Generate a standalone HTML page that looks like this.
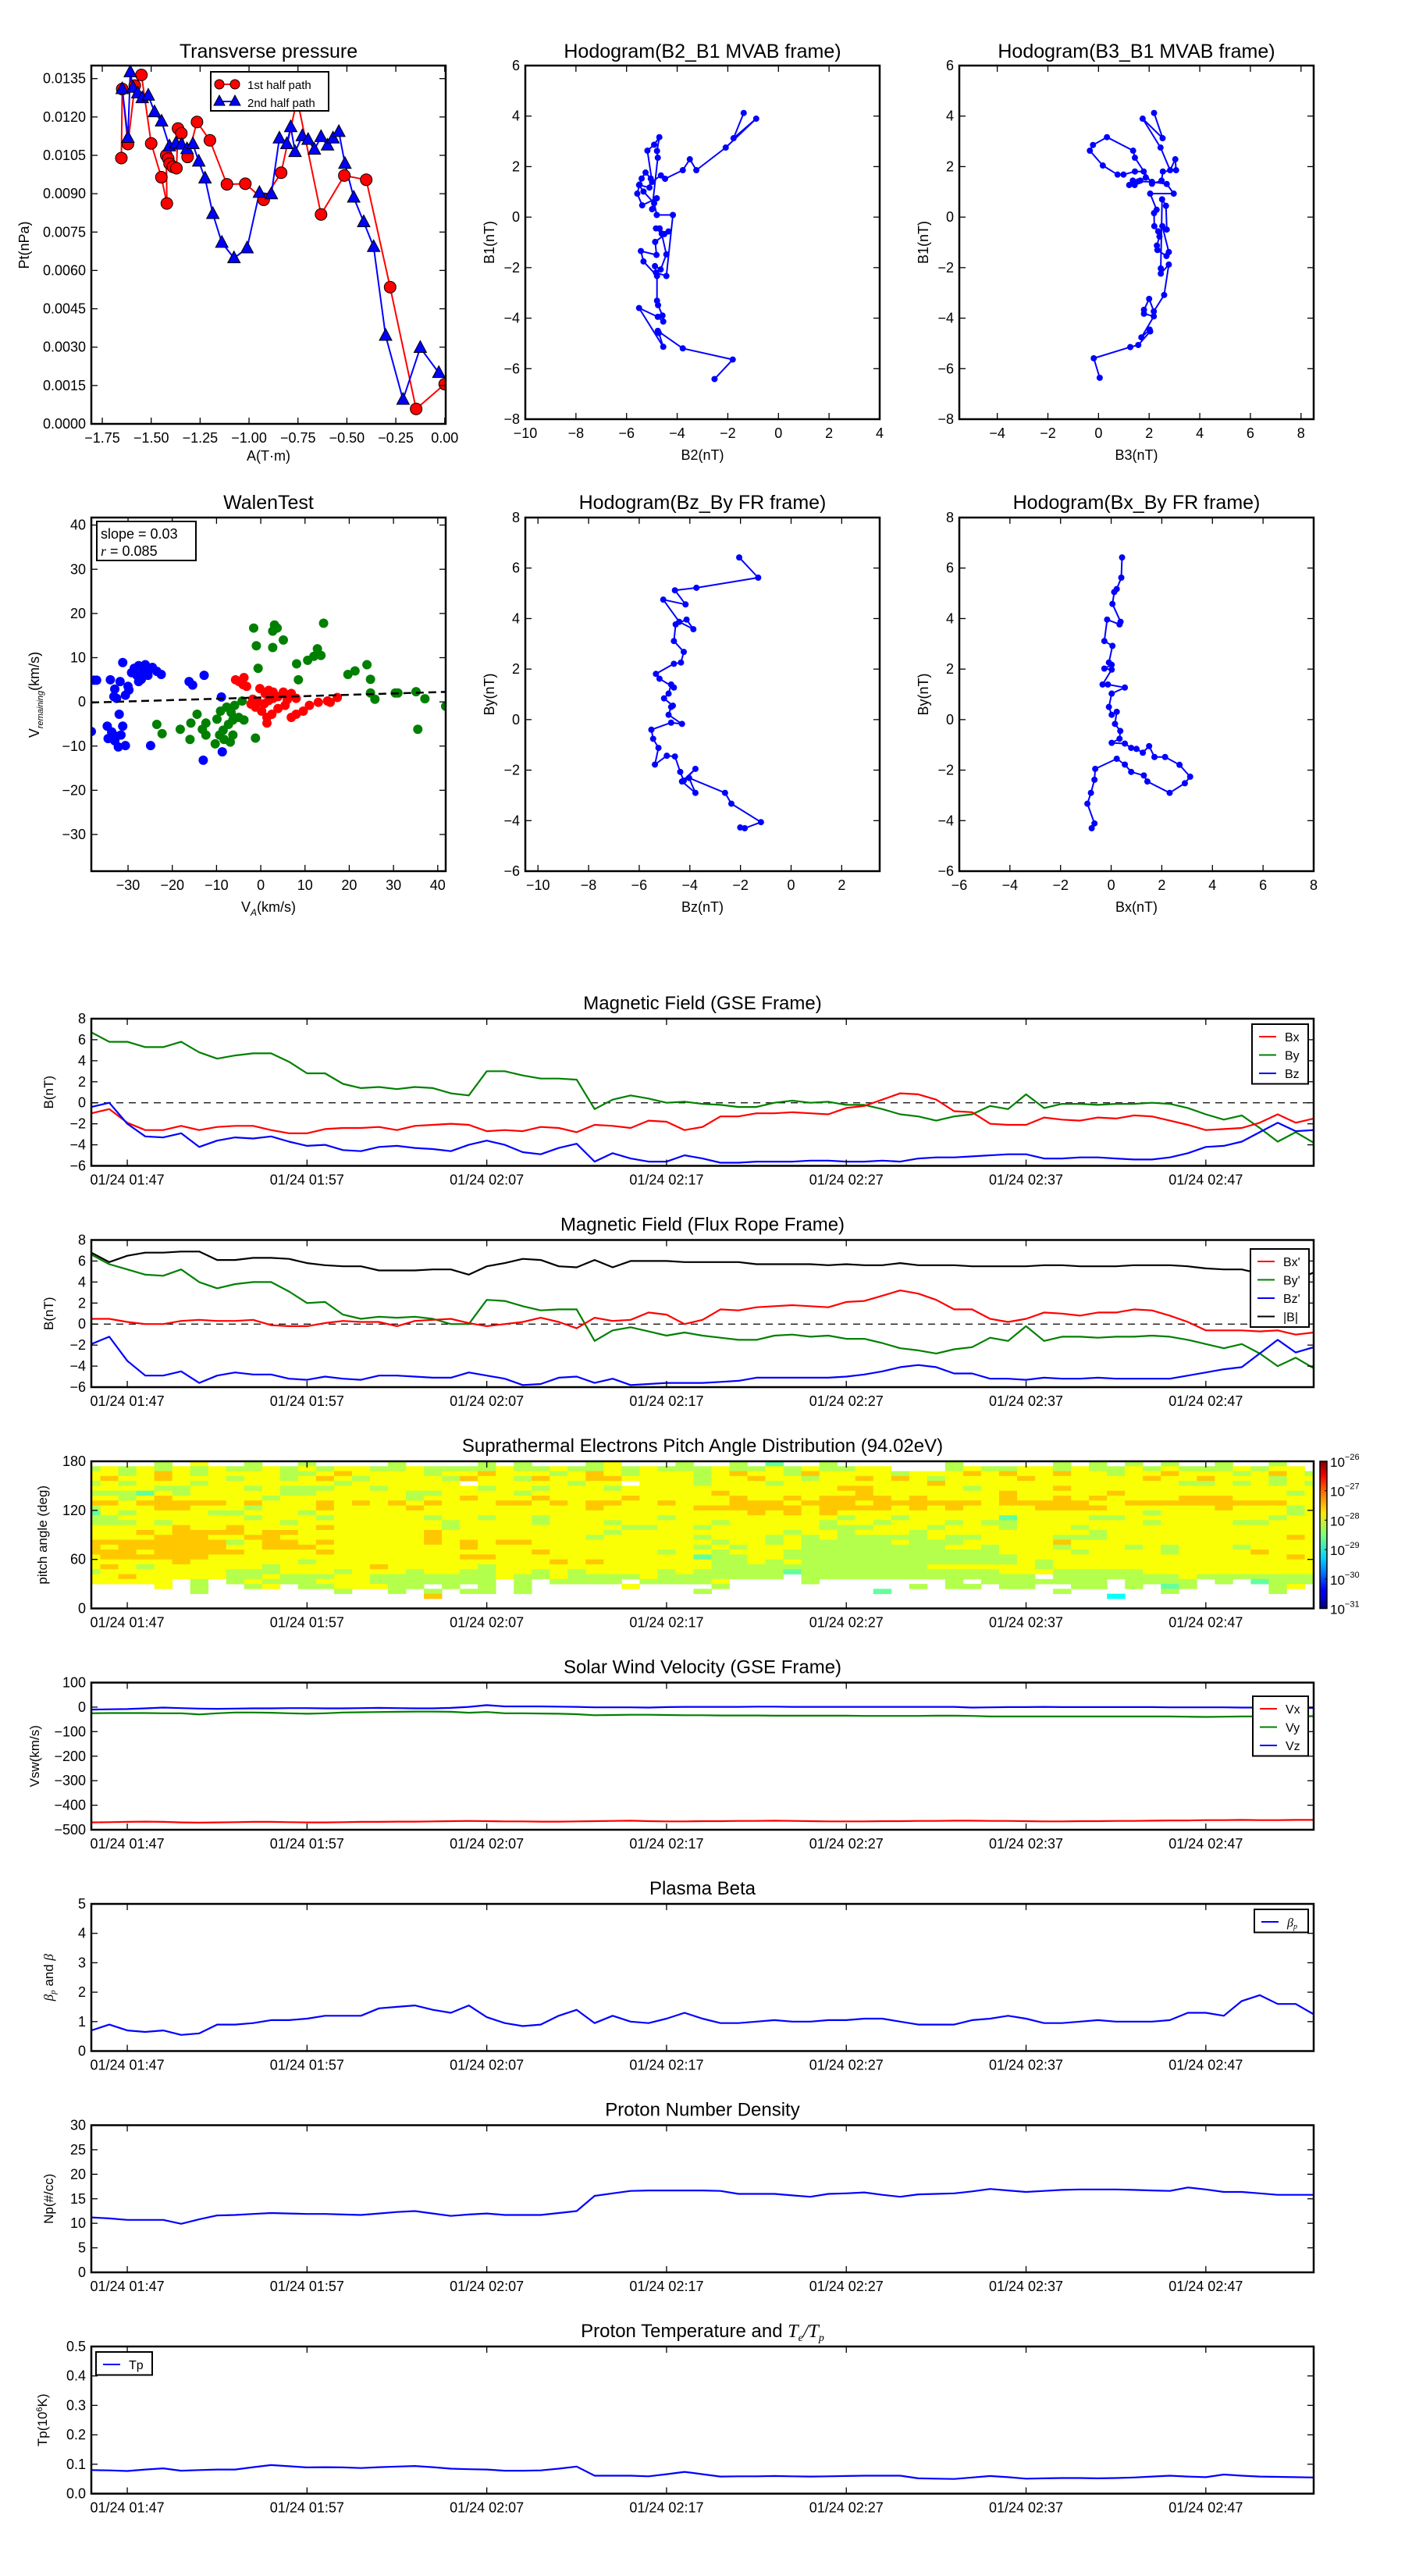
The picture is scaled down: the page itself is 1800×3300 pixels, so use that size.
<!DOCTYPE html>
<html><head><meta charset="utf-8"><title>Flux rope analysis</title>
<style>
html,body{margin:0;padding:0;background:#fff;}
svg{display:block;font-family:"Liberation Sans",sans-serif;}
</style></head>
<body>
<svg id="fig" width="1800" height="3300" viewBox="0 0 1800 3300" xmlns="http://www.w3.org/2000/svg">
<defs>
<linearGradient id="jetgrad" x1="0" y1="1" x2="0" y2="0">
<stop offset="0" stop-color="#00007f"/><stop offset="0.11" stop-color="#0000ff"/><stop offset="0.125" stop-color="#0000ff"/>
<stop offset="0.34" stop-color="#00d4ff"/><stop offset="0.5" stop-color="#7dff7a"/><stop offset="0.65" stop-color="#ffe600"/>
<stop offset="0.8" stop-color="#ff6800"/><stop offset="0.9" stop-color="#ff0000"/><stop offset="1" stop-color="#7f0000"/>
</linearGradient>
</defs>
</svg>
<script>
// ---------------- DATA ----------------
const tpRedA = [-1.6525,-1.648,-1.619,-1.584,-1.550,-1.500,-1.448,-1.420,-1.423,-1.413,-1.406,-1.389,-1.371,-1.363,-1.346,-1.314,-1.266,-1.200,-1.113,-1.019,-0.925,-0.836,-0.754,-0.632,-0.513,-0.401,-0.279,-0.146,0.000];
const tpRedP = [0.010393,0.013093,0.010944,0.013226,0.013644,0.010966,0.009644,0.008619,0.010504,0.010371,0.010173,0.010052,0.009996,0.011550,0.011363,0.010437,0.011804,0.011087,0.009368,0.009390,0.008762,0.009820,0.012708,0.008189,0.009710,0.009545,0.005345,0.000584,0.001554];
const tpBlueA = [-1.648,-1.619,-1.607,-1.593,-1.569,-1.546,-1.515,-1.483,-1.447,-1.407,-1.374,-1.345,-1.317,-1.287,-1.257,-1.225,-1.185,-1.139,-1.077,-1.010,-0.947,-0.886,-0.845,-0.807,-0.787,-0.765,-0.728,-0.698,-0.666,-0.632,-0.599,-0.571,-0.541,-0.510,-0.465,-0.414,-0.363,-0.302,-0.213,-0.125,-0.030];
const tpBlueP = [0.013093,0.011187,0.013755,0.013148,0.012928,0.012741,0.012840,0.012190,0.011826,0.010856,0.010966,0.010922,0.010746,0.010944,0.010261,0.009600,0.008211,0.007087,0.006481,0.006866,0.009037,0.008982,0.011165,0.010944,0.011605,0.010635,0.011253,0.011109,0.010724,0.011220,0.010889,0.011165,0.011418,0.010173,0.008850,0.007891,0.006921,0.003450,0.000948,0.002976,0.001995];
const tpXTicks = [-1.75,-1.50,-1.25,-1.00,-0.75,-0.50,-0.25,0.00];
const tpYTicks = [0,0.0015,0.003,0.0045,0.006,0.0075,0.009,0.0105,0.012,0.0135];

const hB2 = [-1.372,-1.774,-0.879,-2.082,-3.244,-3.501,-3.779,-4.478,-4.643,-4.992,-5.177,-4.910,-4.705,-4.797,-4.766,-4.992,-4.807,-5.383,-5.578,-5.486,-5.404,-5.249,-5.044,-5.095,-5.506,-5.331,-4.910,-4.807,-4.170,-4.427,-4.838,-4.879,-4.653,-4.427,-4.612,-4.838,-4.694,-4.509,-4.344,-4.869,-4.817,-5.434,-5.331,-4.797,-4.797,-4.756,-4.581,-4.550,-4.766,-5.506,-4.550,-4.725,-4.766,-3.779,-1.805,-2.525];
const hB1 = [4.124,3.125,3.897,2.754,1.858,2.290,1.858,1.518,1.652,1.394,2.630,2.867,3.166,2.620,2.352,0.313,0.746,0.467,0.931,1.292,1.528,1.765,1.528,1.168,1.271,1.013,0.550,0.086,0.086,-2.331,-2.197,-1.940,-2.073,-1.476,-0.652,-0.446,-0.446,-0.672,-0.569,-0.981,-1.497,-1.343,-1.754,-2.331,-3.310,-3.485,-3.897,-4.134,-3.948,-3.598,-5.135,-4.587,-4.504,-5.196,-5.639,-6.411];

const hB3 = [2.194,2.532,1.744,2.450,2.829,3.033,3.064,2.542,2.491,2.112,1.437,1.366,0.333,-0.219,-0.342,0.169,0.752,0.987,1.437,1.785,1.867,1.652,1.355,1.212,1.427,1.570,2.112,2.695,2.971,2.041,2.296,2.194,2.204,2.358,2.409,2.306,2.327,2.685,2.777,2.521,2.695,2.665,2.511,2.460,2.460,2.777,2.593,2.184,2.000,1.795,1.795,2.184,1.693,2.020,2.041,1.571,1.254,-0.188,0.047];
const hB1b = [4.124,3.125,3.897,2.754,1.858,2.290,1.858,1.806,1.446,1.322,2.352,2.630,3.166,2.857,2.630,2.043,1.683,1.683,1.806,1.806,1.569,1.446,1.446,1.271,1.271,1.415,1.394,1.312,0.931,0.931,0.293,0.159,-0.357,-0.563,-0.769,-1.127,-1.302,-1.539,-1.384,-0.357,-0.492,0.447,0.704,-2.032,-2.238,-1.878,-3.083,-3.732,-3.238,-3.670,-3.825,-3.928,-4.762,-4.453,-4.525,-5.063,-5.145,-5.588,-6.361];

const walBlueX = [-38.3,-37.7,-37.1,-34.0,-33.0,-33.2,-31.8,-31.2,-30.0,-29.8,-29.2,-28.6,-28.0,-27.6,-27.0,-26.6,-26.1,-25.3,-24.5,-23.5,-22.5,-25.5,-27.6,-30.6,-32.6,-34.7,-33.7,-32.6,-31.6,-32.0,-34.5,-32.2,-30.6,-31.2,-33.0,-24.9,-16.2,-15.4,-12.8,-8.9,-13.0,-8.7];
const walBlueY = [-6.7,4.9,4.9,5.0,2.9,1.2,4.6,8.9,3.5,2.7,6.6,7.6,6.0,8.2,5.1,7.0,8.4,7.3,7.8,6.9,6.2,6.0,4.6,1.5,0.8,-5.5,-6.8,-7.8,-7.5,-2.8,-8.3,-10.2,-9.9,-5.5,-8.8,-9.9,4.6,3.8,6.0,1.1,-13.2,-11.3];
const walGreenX = [-1.6,3.1,2.7,3.7,5.1,-1.0,2.7,14.2,12.8,13.6,12.0,10.6,8.1,-0.6,8.5,24.0,21.3,19.7,24.8,24.8,25.8,30.4,31.0,35.1,37.1,41.8,35.5,-4.2,-9.1,-7.7,-6.7,-5.9,-5.0,-9.9,-12.4,-13.2,-15.8,-18.2,-16.0,-12.4,-10.3,-8.3,-6.9,-6.3,-9.3,-8.5,-23.5,-22.3,-1.2,-3.8,-6.3,-7.3,-14.4];
const walGreenY = [16.7,17.4,16.0,16.7,14.0,12.7,12.3,17.8,12.0,10.5,10.3,9.4,8.6,7.6,5.0,8.4,7.0,6.2,5.1,2.0,0.6,2.0,2.0,2.3,0.7,-1.0,-6.2,0.2,-2.1,-1.2,-2.4,-0.8,-3.5,-3.9,-4.8,-6.2,-4.8,-6.2,-8.5,-7.5,-9.5,-8.5,-9.1,-7.5,-7.5,-6.4,-5.1,-7.2,-8.2,-4.1,-4.1,-5.1,-2.8];
const walRedX = [-5.7,-4.9,-3.8,-4.0,-3.2,-0.2,1.8,1.0,2.8,5.1,6.9,-1.8,-0.6,0.8,1.8,2.8,0.2,1.4,2.5,3.9,5.5,6.9,8.0,9.6,11.0,13.0,15.1,17.3,15.7,-1.2,-2.2,3.9,6.0,8.0,1.4];
const walRedY = [5.0,4.6,5.5,3.9,3.5,3.0,2.6,1.9,2.2,2.2,1.9,0.6,-0.1,-0.4,0.3,0.8,-2.1,-3.5,-2.8,-1.5,-0.8,-3.5,-2.8,-2.1,-0.8,-0.1,0.2,1.0,-0.1,-1.2,-0.5,1.2,0.5,0.8,-4.8];
const walSlope = 0.03, walIntercept = 1.0;
const walTicks = [-30,-20,-10,0,10,20,30,40];

const frBz = [-2.05,-1.30,-3.74,-4.59,-4.17,-5.05,-4.42,-3.86,-4.13,-4.56,-4.63,-4.24,-4.35,-4.63,-5.34,-5.20,-4.63,-4.74,-4.84,-5.02,-4.67,-4.74,-4.84,-4.31,-4.74,-5.52,-5.45,-5.24,-5.38,-4.91,-4.59,-4.38,-4.24,-3.78,-4.31,-3.78,-4.03,-2.61,-2.36,-1.19,-1.83,-2.01];
const frBy = [6.42,5.62,5.22,5.12,4.56,4.75,3.87,3.58,3.96,3.77,3.11,2.68,2.26,2.21,1.81,1.62,1.27,1.39,1.03,0.84,0.55,0.50,0.19,-0.17,-0.12,-0.40,-0.76,-1.12,-1.78,-1.43,-1.46,-2.07,-2.42,-1.95,-2.45,-2.90,-2.31,-2.90,-3.33,-4.06,-4.30,-4.27];

const frBx = [0.43,0.40,0.22,0.12,0.05,0.37,0.33,-0.16,-0.27,0.05,-0.09,0.02,-0.27,0.02,-0.34,-0.13,0.54,0.02,-0.09,0.02,0.22,0.15,0.36,0.33,0.02,0.54,0.79,1.00,1.25,1.50,1.71,2.13,2.70,3.12,2.91,2.31,1.43,1.29,0.79,0.54,0.22,-0.63,-0.66,-0.80,-0.94,-0.66,-0.77];
const frByb = [6.42,5.62,5.17,5.05,4.58,3.87,3.77,3.96,3.11,2.92,2.26,2.17,2.02,1.98,1.39,1.39,1.27,1.03,0.50,0.19,0.31,-0.17,-0.45,-0.76,-0.92,-0.95,-1.12,-1.16,-1.31,-1.05,-1.48,-1.48,-1.79,-2.26,-2.52,-2.90,-2.45,-2.21,-2.07,-1.78,-1.55,-1.95,-2.38,-2.90,-3.33,-4.11,-4.30];

const tsTickLabels = ["01/24 01:47","01/24 01:57","01/24 02:07","01/24 02:17","01/24 02:27","01/24 02:37","01/24 02:47"];
const tsTickIdx = [2,12,22,32,42,52,62];
const gseBx = [-1.0,-0.6,-1.9,-2.6,-2.6,-2.2,-2.6,-2.3,-2.2,-2.2,-2.6,-2.9,-2.9,-2.5,-2.4,-2.4,-2.3,-2.6,-2.2,-2.1,-2.0,-2.1,-2.7,-2.6,-2.7,-2.3,-2.4,-2.8,-2.1,-2.2,-2.4,-1.7,-1.8,-2.6,-2.3,-1.3,-1.3,-1.0,-1.0,-0.9,-1.0,-1.1,-0.5,-0.3,0.3,0.9,0.8,0.3,-0.8,-0.9,-2.0,-2.1,-2.1,-1.4,-1.6,-1.7,-1.4,-1.5,-1.2,-1.3,-1.7,-2.1,-2.6,-2.5,-2.4,-1.9,-1.1,-1.9,-1.5];
const gseBy = [6.7,5.8,5.8,5.3,5.3,5.8,4.8,4.2,4.5,4.7,4.7,3.9,2.8,2.8,1.8,1.4,1.5,1.3,1.5,1.4,0.9,0.7,3.0,3.0,2.6,2.3,2.3,2.2,-0.6,0.3,0.7,0.4,0.0,0.1,-0.1,-0.2,-0.4,-0.4,0.0,0.2,0.0,0.1,-0.2,-0.2,-0.6,-1.1,-1.3,-1.7,-1.3,-1.1,-0.3,-0.6,0.8,-0.5,-0.1,-0.1,-0.2,-0.1,-0.1,0.0,-0.1,-0.5,-1.1,-1.6,-1.2,-2.4,-3.7,-2.8,-3.8];
const gseBz = [-0.4,0.0,-2.0,-3.2,-3.3,-2.9,-4.2,-3.6,-3.3,-3.4,-3.2,-3.7,-4.1,-4.0,-4.5,-4.6,-4.2,-4.1,-4.3,-4.4,-4.6,-4.0,-3.6,-4.0,-4.7,-4.9,-4.3,-3.9,-5.6,-4.8,-5.3,-5.6,-5.6,-5.0,-5.3,-5.7,-5.7,-5.6,-5.6,-5.6,-5.5,-5.5,-5.6,-5.6,-5.5,-5.6,-5.3,-5.2,-5.2,-5.1,-5.0,-4.9,-4.9,-5.3,-5.3,-5.2,-5.2,-5.3,-5.4,-5.4,-5.2,-4.8,-4.2,-4.1,-3.7,-2.8,-1.9,-2.7,-2.6];
const frBxT = [0.5,0.5,0.2,0.0,0.0,0.3,0.4,0.3,0.3,0.4,-0.1,-0.2,-0.2,0.1,0.3,0.2,0.2,-0.2,0.3,0.4,0.5,0.1,-0.2,0.0,0.2,0.6,0.2,-0.4,0.6,0.3,0.4,1.1,0.9,0.0,0.4,1.4,1.3,1.6,1.7,1.8,1.7,1.6,2.1,2.2,2.7,3.2,2.9,2.3,1.4,1.4,0.5,0.2,0.5,1.1,1.0,0.8,1.1,1.1,1.4,1.3,0.8,0.2,-0.6,-0.6,-0.6,-0.7,-0.6,-1.0,-0.8];
const frByT = [6.6,5.7,5.2,4.7,4.6,5.2,4.0,3.4,3.8,4.0,4.0,3.1,2.0,2.1,0.9,0.5,0.7,0.6,0.7,0.5,0.0,0.0,2.3,2.2,1.7,1.3,1.4,1.4,-1.6,-0.6,-0.3,-0.7,-1.1,-0.8,-1.1,-1.3,-1.5,-1.5,-1.1,-1.0,-1.2,-1.1,-1.4,-1.4,-1.8,-2.3,-2.5,-2.8,-2.4,-2.2,-1.3,-1.6,-0.2,-1.6,-1.2,-1.2,-1.3,-1.2,-1.2,-1.1,-1.2,-1.5,-1.9,-2.3,-1.9,-2.8,-4.0,-3.2,-4.2];
const frBzT = [-1.9,-1.2,-3.5,-4.9,-4.9,-4.5,-5.6,-4.9,-4.6,-4.8,-4.8,-5.2,-5.3,-5.0,-5.2,-5.3,-4.9,-4.9,-5.0,-5.1,-5.1,-4.6,-4.9,-5.2,-5.8,-5.7,-5.1,-5.0,-5.6,-5.2,-5.8,-5.7,-5.6,-5.6,-5.6,-5.5,-5.4,-5.1,-5.1,-5.1,-5.1,-5.1,-5.0,-4.8,-4.5,-4.1,-3.9,-4.1,-4.7,-4.7,-5.2,-5.2,-5.3,-5.1,-5.2,-5.2,-5.1,-5.2,-5.2,-5.2,-5.2,-4.9,-4.6,-4.3,-4.1,-2.8,-1.5,-2.7,-2.2];
const frBmag = [6.8,5.9,6.5,6.8,6.8,6.9,6.9,6.1,6.1,6.3,6.3,6.2,5.8,5.6,5.5,5.5,5.1,5.1,5.1,5.2,5.2,4.7,5.5,5.8,6.2,6.1,5.5,5.4,6.1,5.4,6.0,6.0,6.0,5.9,5.9,5.9,5.9,5.7,5.7,5.7,5.7,5.6,5.7,5.6,5.6,5.8,5.6,5.6,5.6,5.5,5.5,5.5,5.5,5.6,5.6,5.5,5.5,5.5,5.6,5.6,5.6,5.5,5.3,5.2,5.2,4.8,4.4,4.2,4.9];
const swVx = [-470,-469,-468,-467,-468,-470,-471,-470,-469,-468,-468,-469,-470,-470,-469,-468,-468,-467,-467,-466,-465,-464,-465,-466,-466,-467,-467,-466,-465,-464,-463,-465,-466,-466,-465,-465,-464,-464,-463,-464,-465,-466,-466,-466,-465,-465,-464,-464,-463,-463,-464,-464,-465,-466,-466,-465,-465,-464,-464,-463,-462,-462,-461,-461,-460,-461,-461,-460,-460];
const swVy = [-25,-24,-24,-24,-25,-25,-30,-25,-22,-22,-23,-25,-27,-25,-22,-21,-20,-19,-18,-18,-19,-23,-20,-25,-25,-26,-27,-29,-33,-32,-31,-31,-32,-33,-33,-34,-34,-34,-35,-35,-35,-35,-35,-36,-36,-36,-36,-35,-35,-36,-38,-38,-38,-38,-38,-38,-38,-38,-38,-38,-38,-39,-40,-39,-38,-38,-38,-38,-37];
const swVz = [-10,-9,-8,-5,-2,-4,-6,-7,-6,-5,-5,-4,-4,-5,-5,-4,-3,-4,-5,-5,-3,1,8,3,3,3,2,1,-1,-1,-1,-2,0,1,1,1,1,2,2,1,1,1,1,1,1,1,1,1,1,-2,-1,0,0,1,0,0,0,0,0,0,-1,-1,-1,-1,-2,-2,-3,-3,-3];
const betaP = [0.7,0.9,0.7,0.65,0.7,0.55,0.6,0.9,0.9,0.95,1.05,1.05,1.1,1.2,1.2,1.2,1.45,1.5,1.55,1.4,1.3,1.55,1.15,0.95,0.85,0.9,1.2,1.4,0.95,1.2,1.0,0.95,1.1,1.3,1.1,0.95,0.95,1.0,1.05,1.0,1.0,1.05,1.05,1.1,1.1,1.0,0.9,0.9,0.9,1.05,1.1,1.2,1.1,0.95,0.95,1.0,1.05,1.0,1.0,1.0,1.05,1.3,1.3,1.2,1.7,1.9,1.6,1.6,1.25];
const densNp = [11.2,11.0,10.7,10.7,10.7,9.9,10.8,11.6,11.7,11.9,12.1,12.0,11.9,11.9,11.8,11.7,12.0,12.3,12.5,12.0,11.5,11.8,12.0,11.7,11.7,11.7,12.1,12.5,15.6,16.1,16.6,16.7,16.7,16.7,16.7,16.6,16.0,16.0,16.0,15.7,15.4,16.0,16.1,16.3,15.8,15.4,15.9,16.0,16.1,16.5,17.0,16.7,16.4,16.6,16.8,16.9,16.9,16.9,16.8,16.7,16.6,17.3,16.9,16.4,16.4,16.1,15.8,15.8,15.8];
const tempTp = [0.080,0.079,0.077,0.082,0.086,0.078,0.080,0.082,0.082,0.090,0.097,0.093,0.089,0.090,0.089,0.087,0.090,0.092,0.094,0.090,0.085,0.083,0.082,0.078,0.078,0.079,0.085,0.092,0.061,0.061,0.061,0.059,0.066,0.074,0.066,0.058,0.059,0.059,0.060,0.059,0.058,0.059,0.060,0.061,0.061,0.061,0.052,0.051,0.050,0.055,0.060,0.056,0.051,0.052,0.053,0.053,0.052,0.053,0.055,0.058,0.061,0.058,0.056,0.065,0.061,0.058,0.057,0.056,0.055];
// Pitch angle distribution: level digits, '.' = no data
const padRows = [
"....5.6..5..5....5....5.5...56...5..5.4..5......5.....5.5.5.5..5..5..",
"565656565565656655655556556556565556556565566...56556656556565556566",
"665676566665567666656676665676566656766576666566676766766566766656765",
"676676665665676566665766576677666656676656676765666676666667667666566",
"565666566666665666666.66666566.66656665666666667666666666666655656565",
"666655666565556656666656656665666666666666776666656666766666666666666",
"555465666665566666556666566666666667666666676666666766666766666666656",
"665676666656666666566766676666766666766767777676666766767666677766666",
"776777776766676767676667767677667666777677767777776777776677777777766",
"566677666566676666766666666676666677777767777676766667777666666766656",
"465666655666566666666666666666666666676767666666666666666665666666656",
"556666666566656666656656656666665666666666566566666466665566666666566",
"555656666665666666665666656665666665666665665666565566666665666655666",
"666667667666676666665666666666556656666665556665666566656666666666666",
"666767777677666666676666666665666666666566566656666666665666666666666",
"666677766776666666676666666656666656665656555556556666555666666666676",
"777777775677676666676767766666666665665655555655566666766666666666666",
"767777776677766666666766666666666656566655555555665666566656566656666",
"777677777666676666666666676666665665666555555555555666656666566667666",
"677777766666666666666776666666666645566555555555555566666666666666676",
"666667666666566666666666667676666665565655555555555565666666666666666",
"676566666656666676666656666666666665555555555556666665666666666666666",
"566666665556665666566556656566665655555455555555555666555556666666666",
"667666665565556655555556556555565555555.5555555555555.5555555655555555",
"66666.5.565556665555555.5.5555.55556....5.......5.5555555.5555.5.4555",
"....6.5..56.5566655.5.5.5.....6....5..........5.55.55..55.5.45....56..",
"......5.......5..5.5.55.5.........5.........4.........5.....5.....5...",
"...................7.....................................3...........",
"......................................................................",
"......................................................................"
];
const padLevelFrac = [0.10,0.20,0.30,0.38,0.47,0.55,0.62,0.68,0.76,0.85];
const padTicks = [0,60,120,180];
const cbLabels = ["-31","-30","-29","-28","-27","-26"];

// ---------------- DRAWING ----------------
const NS = "http://www.w3.org/2000/svg";
const svg = document.getElementById('fig');
function mk(tag, attrs, parent, name, inter) {
  const e = document.createElementNS(NS, tag);
  for (const k in attrs) e.setAttribute(k, attrs[k]);
  
  
  (parent || svg).appendChild(e);
  return e;
}
function txt(s, x, y, size, anchor, parent, name, extra) {
  const a = {x: x, y: y, 'font-size': size, 'text-anchor': anchor || 'middle', fill: '#000'};
  if (extra) for (const k in extra) a[k] = extra[k];
  const t = mk('text', a, parent, name, false);
  t.textContent = s;
  return t;
}
function scale(d0, d1, r0, r1) { return v => r0 + (v - d0) * (r1 - r0) / (d1 - d0); }

function axesFrame(g, x0, y0, w, h, name) {
  mk('rect', {x: x0, y: y0, width: w, height: h, fill: 'none', stroke: '#000', 'stroke-width': 2.5}, g, name + '-frame', false);
}
function xTicks(g, sx, ticks, labels, y0, h, fs, name, fmt) {
  ticks.forEach((t, i) => {
    const x = sx(t);
    mk('line', {x1: x, y1: y0 + h, x2: x, y2: y0 + h - 8, stroke: '#000', 'stroke-width': 1.3}, g, name + '-xtick', false);
    mk('line', {x1: x, y1: y0, x2: x, y2: y0 + 8, stroke: '#000', 'stroke-width': 1.3}, g, name + '-xtick-top', false);
    txt(labels ? labels[i] : fmt(t), x, y0 + h + 24, fs, 'middle', g, name + '-xtick-label');
  });
}
function yTicks(g, sy, ticks, x0, w, fs, name, fmt) {
  ticks.forEach(t => {
    const y = sy(t);
    mk('line', {x1: x0, y1: y, x2: x0 + 8, y2: y, stroke: '#000', 'stroke-width': 1.3}, g, name + '-ytick', false);
    mk('line', {x1: x0 + w, y1: y, x2: x0 + w - 8, y2: y, stroke: '#000', 'stroke-width': 1.3}, g, name + '-ytick-right', false);
    txt(fmt(t), x0 - 7, y + 6, fs, 'end', g, name + '-ytick-label');
  });
}
function minus(s) { return String(s).replace('-', '\u2212'); }
function polyline(g, xs, ys, sx, sy, color, lw, name, clip) {
  const pts = xs.map((x, i) => sx(x).toFixed(1) + ',' + sy(ys[i]).toFixed(1)).join(' ');
  const a = {points: pts, fill: 'none', stroke: color, 'stroke-width': lw, 'stroke-linejoin': 'round'};
  if (clip) a['clip-path'] = 'url(#' + clip + ')';
  return mk('polyline', a, g, name, false);
}
function clipRect(id, x, y, w, h) {
  const cp = mk('clipPath', {id: id}, svg, id, false);
  mk('rect', {x: x, y: y, width: w, height: h}, cp, id + '-rect', false);
}

// ---- Panel 1: Transverse pressure ----
(function () {
  const x0 = 117, y0 = 84, w = 454, h = 459;
  const g = mk('g', {}, svg, 'transverse-pressure-panel', false);
  const sx = scale(-1.806, 0.005, x0, x0 + w), sy = scale(0, 0.01401, y0 + h, y0);
  clipRect('clipTP', x0 - 10, y0, w + 10, h);
  txt('Transverse pressure', x0 + w / 2, 74, 25, 'middle', g, 'transverse-pressure-title');
  polyline(g, tpRedA, tpRedP, sx, sy, '#ff0000', 2, '1st-half-path-line', 'clipTP');
  polyline(g, tpBlueA, tpBlueP, sx, sy, '#0000ff', 2, '2nd-half-path-line', 'clipTP');
  tpRedA.forEach((a, i) => {
    mk('circle', {cx: sx(a), cy: sy(tpRedP[i]), r: 7.5, fill: '#ff0000', stroke: '#000', 'stroke-width': 1, 'clip-path': 'url(#clipTP)'}, g, '1st-half-path-marker', false);
  });
  tpBlueA.forEach((a, i) => {
    const x = sx(a), y = sy(tpBlueP[i]);
    mk('polygon', {points: `${x},${y - 9} ${x - 8},${y + 6} ${x + 8},${y + 6}`, fill: '#0000ff', stroke: '#000', 'stroke-width': 1, 'clip-path': 'url(#clipTP)'}, g, '2nd-half-path-marker', false);
  });
  axesFrame(g, x0, y0, w, h, 'transverse-pressure');
  xTicks(g, sx, tpXTicks, null, y0, h, 18, 'transverse-pressure', t => minus(t.toFixed(2)));
  yTicks(g, sy, tpYTicks, x0, w, 18, 'transverse-pressure', t => t.toFixed(4));
  txt('A(T\u00b7m)', x0 + w / 2, 590, 18, 'middle', g, 'transverse-pressure-x-label');
  txt('Pt(nPa)', 0, 0, 18, 'middle', g, 'transverse-pressure-y-label', {transform: 'translate(37,314) rotate(-90)'});
  const lg = mk('g', {}, g, 'transverse-pressure-legend', false);
  mk('rect', {x: 270, y: 92, width: 151, height: 50, fill: '#fff', stroke: '#000', 'stroke-width': 2}, lg, 'legend-box', false);
  mk('line', {x1: 281, y1: 108, x2: 301, y2: 108, stroke: '#ff0000', 'stroke-width': 2}, lg, 'legend-1st-line', false);
  mk('circle', {cx: 281, cy: 108, r: 6, fill: '#ff0000', stroke: '#000'}, lg, 'legend-1st-marker', false);
  mk('circle', {cx: 301, cy: 108, r: 6, fill: '#ff0000', stroke: '#000'}, lg, 'legend-1st-marker', false);
  txt('1st half path', 317, 114, 15, 'start', lg, 'legend-1st-label');
  mk('line', {x1: 281, y1: 130, x2: 301, y2: 130, stroke: '#0000ff', 'stroke-width': 2}, lg, 'legend-2nd-line', false);
  mk('polygon', {points: '281,122 274,135 288,135', fill: '#0000ff', stroke: '#000'}, lg, 'legend-2nd-marker', false);
  mk('polygon', {points: '301,122 294,135 308,135', fill: '#0000ff', stroke: '#000'}, lg, 'legend-2nd-marker', false);
  txt('2nd half path', 317, 137, 15, 'start', lg, 'legend-2nd-label');
})();

function hodogram(name, title, x0, y0, w, h, xd, yd, xt, yt, xs, ys, xl, yl, titleY) {
  const g = mk('g', {}, svg, name + '-panel', false);
  const sx = scale(xd[0], xd[1], x0, x0 + w), sy = scale(yd[0], yd[1], y0 + h, y0);
  txt(title, x0 + w / 2, titleY, 25, 'middle', g, name + '-title');
  polyline(g, xs, ys, sx, sy, '#0000ff', 2, name + '-path');
  xs.forEach((x, i) => {
    mk('circle', {cx: sx(x), cy: sy(ys[i]), r: 4, fill: '#0000ff'}, g, name + '-point', false);
  });
  axesFrame(g, x0, y0, w, h, name);
  xTicks(g, sx, xt, null, y0, h, 18, name, t => minus(t));
  yTicks(g, sy, yt, x0, w, 18, name, t => minus(t));
  txt(xl, x0 + w / 2, y0 + h + 52, 18, 'middle', g, name + '-x-label');
  txt(yl, 0, 0, 18, 'middle', g, name + '-y-label', {transform: `translate(${x0 - 40},${y0 + h / 2}) rotate(-90)`});
}
hodogram('hodogram-b2-b1', 'Hodogram(B2_B1 MVAB frame)', 673, 84, 454, 453, [-10, 4], [-8, 6], [-10,-8,-6,-4,-2,0,2,4], [-8,-6,-4,-2,0,2,4,6], hB2, hB1, 'B2(nT)', 'B1(nT)', 74);
hodogram('hodogram-b3-b1', 'Hodogram(B3_B1 MVAB frame)', 1229, 84, 454, 453, [-5.5, 8.5], [-8, 6], [-4,-2,0,2,4,6,8], [-8,-6,-4,-2,0,2,4,6], hB3, hB1b, 'B3(nT)', 'B1(nT)', 74);
hodogram('hodogram-bz-by', 'Hodogram(Bz_By FR frame)', 673, 663, 454, 453, [-10.5, 3.5], [-6, 8], [-10,-8,-6,-4,-2,0,2], [-6,-4,-2,0,2,4,6,8], frBz, frBy, 'Bz(nT)', 'By(nT)', 652);
hodogram('hodogram-bx-by', 'Hodogram(Bx_By FR frame)', 1229, 663, 454, 453, [-6, 8], [-6, 8], [-6,-4,-2,0,2,4,6,8], [-6,-4,-2,0,2,4,6,8], frBx, frByb, 'Bx(nT)', 'By(nT)', 652);

(function () {
  const x0 = 117, y0 = 663, w = 454, h = 453;
  const g = mk('g', {}, svg, 'walen-test-panel', false);
  const sx = scale(-38.3, 41.8, x0, x0 + w), sy = scale(-38.3, 41.7, y0 + h, y0);
  clipRect('clipWT', x0, y0, w, h);
  txt('WalenTest', x0 + w / 2, 652, 25, 'middle', g, 'walen-test-title');
  const groups = [[walBlueX, walBlueY, '#0000ff', 'walen-blue-point'], [walGreenX, walGreenY, '#008000', 'walen-green-point'], [walRedX, walRedY, '#ff0000', 'walen-red-point']];
  groups.forEach(gr => {
    gr[0].forEach((x, i) => {
      mk('circle', {cx: sx(x), cy: sy(gr[1][i]), r: 6, fill: gr[2], 'clip-path': 'url(#clipWT)'}, g, gr[3], false);
    });
  });
  mk('line', {x1: sx(-38.3), y1: sy(walSlope * -38.3 + walIntercept), x2: sx(41.8), y2: sy(walSlope * 41.8 + walIntercept), stroke: '#000', 'stroke-width': 2.5, 'stroke-dasharray': '10,6'}, g, 'walen-fit-line', false);
  axesFrame(g, x0, y0, w, h, 'walen-test');
  xTicks(g, sx, walTicks, null, y0, h, 18, 'walen-test', t => minus(t));
  yTicks(g, sy, walTicks, x0, w, 18, 'walen-test', t => minus(t));
  const lb = mk('g', {}, g, 'walen-stats-box', false);
  mk('rect', {x: 124, y: 668, width: 127, height: 50, fill: '#fff', stroke: '#000', 'stroke-width': 2}, lb, 'walen-stats-frame', false);
  txt('slope = 0.03', 129, 690, 18, 'start', lb, 'walen-slope-label');
  const r = txt('', 129, 712, 18, 'start', lb, 'walen-r-label');
  r.innerHTML = '<tspan font-style="italic" font-family="Liberation Serif">r</tspan> = 0.085';
  const xl = txt('', x0 + w / 2, 1168, 18, 'middle', g, 'walen-x-label');
  xl.innerHTML = 'V<tspan font-size="12" dy="5" font-style="italic">A</tspan><tspan dy="-5">(km/s)</tspan>';
  const yl = txt('', 0, 0, 18, 'middle', g, 'walen-y-label', {transform: 'translate(50,890) rotate(-90)'});
  yl.innerHTML = 'V<tspan font-size="11" dy="5" font-style="italic">remaining</tspan><tspan dy="-5">(km/s)</tspan>';
})();

const tsX0 = 117, tsW = 1566, tsH = 188.5, tsN = 68;
const tsTops = [1305, 1588.5, 1872, 2155.5, 2439, 2722.5, 3006];
const tsx = scale(0, tsN, tsX0, tsX0 + tsW);
const tsIdx = gseBx.map((_, i) => i);
function tsPanel(k, name, title, yd) {
  const y0 = tsTops[k];
  const g = mk('g', {}, svg, name + '-panel', false);
  const sy = scale(yd[0], yd[1], y0 + tsH, y0);
  const t = txt('', tsX0 + tsW / 2, y0 - 12, 24, 'middle', g, name + '-title');
  t.innerHTML = title;
  clipRect('clip-' + name, tsX0, y0, tsW, tsH);
  return {g, sy, y0};
}
function tsFinish(p, name, yt, fmt, ylabelHTML, ylx) {
  axesFrame(p.g, tsX0, p.y0, tsW, tsH, name);
  xTicks(p.g, tsx, tsTickIdx, tsTickLabels, p.y0, tsH, 18, name);
  yTicks(p.g, p.sy, yt, tsX0, tsW, 18, name, fmt);
  const yl = txt('', 0, 0, 17, 'middle', p.g, name + '-y-label', {transform: `translate(${ylx || 68},${p.y0 + tsH / 2}) rotate(-90)`});
  yl.innerHTML = ylabelHTML;
}
function tsLegend(p, name, x, y, w, entries) {
  const lg = mk('g', {}, p.g, name + '-legend', false);
  mk('rect', {x: x, y: y, width: w, height: entries.length * 23.5 + 6, fill: '#fff', stroke: '#000', 'stroke-width': 2}, lg, name + '-legend-box', false);
  entries.forEach((e, i) => {
    const yy = y + 16 + i * 23.5;
    mk('line', {x1: x + 9, y1: yy, x2: x + 31, y2: yy, stroke: e[1], 'stroke-width': 2}, lg, name + '-legend-swatch', false);
    const t = txt('', x + 42, yy + 6, 16, 'start', lg, name + '-legend-label');
    t.innerHTML = e[0];
  });
}
(function () {
  const n = 'magnetic-field-gse';
  const p = tsPanel(0, n, 'Magnetic Field (GSE Frame)', [-6, 8]);
  mk('line', {x1: tsX0, y1: p.sy(0), x2: tsX0 + tsW, y2: p.sy(0), stroke: '#000', 'stroke-width': 1.3, 'stroke-dasharray': '9,7'}, p.g, n + '-zero-line', false);
  polyline(p.g, tsIdx, gseBy, tsx, p.sy, '#008000', 2.2, n + '-by-line', 'clip-' + n);
  polyline(p.g, tsIdx, gseBx, tsx, p.sy, '#ff0000', 2.2, n + '-bx-line', 'clip-' + n);
  polyline(p.g, tsIdx, gseBz, tsx, p.sy, '#0000ff', 2.2, n + '-bz-line', 'clip-' + n);
  tsFinish(p, n, [-6,-4,-2,0,2,4,6,8], t => minus(t), 'B(nT)');
  tsLegend(p, n, 1604, 1312, 72, [['Bx', '#ff0000'], ['By', '#008000'], ['Bz', '#0000ff']]);
})();
(function () {
  const n = 'magnetic-field-flux-rope';
  const p = tsPanel(1, n, 'Magnetic Field (Flux Rope Frame)', [-6, 8]);
  mk('line', {x1: tsX0, y1: p.sy(0), x2: tsX0 + tsW, y2: p.sy(0), stroke: '#000', 'stroke-width': 1.3, 'stroke-dasharray': '9,7'}, p.g, n + '-zero-line', false);
  polyline(p.g, tsIdx, frBmag, tsx, p.sy, '#000000', 2.2, n + '-bmag-line', 'clip-' + n);
  polyline(p.g, tsIdx, frByT, tsx, p.sy, '#008000', 2.2, n + '-by-line', 'clip-' + n);
  polyline(p.g, tsIdx, frBxT, tsx, p.sy, '#ff0000', 2.2, n + '-bx-line', 'clip-' + n);
  polyline(p.g, tsIdx, frBzT, tsx, p.sy, '#0000ff', 2.2, n + '-bz-line', 'clip-' + n);
  tsFinish(p, n, [-6,-4,-2,0,2,4,6,8], t => minus(t), 'B(nT)');
  tsLegend(p, n, 1602, 1600, 75, [["Bx'", '#ff0000'], ["By'", '#008000'], ["Bz'", '#0000ff'], ['|B|', '#000000']]);
})();
function jet(v) {
  const c = x => Math.max(0, Math.min(1, x));
  const r = c(1.5 - Math.abs(4 * v - 3)), g = c(1.5 - Math.abs(4 * v - 2)), b = c(1.5 - Math.abs(4 * v - 1));
  return `rgb(${Math.round(r * 255)},${Math.round(g * 255)},${Math.round(b * 255)})`;
}
(function () {
  const n = 'pitch-angle-distribution';
  const p = tsPanel(2, n, 'Suprathermal Electrons Pitch Angle Distribution (94.02eV)', [0, 180]);
  const nRows = padRows.length, bin = 180 / nRows;
  padRows.forEach((row, r) => {
    const s = (row + '.'.repeat(69)).slice(0, 69);
    const paTop = 180 - r * bin;
    for (let i = 0; i < 69; i++) {
      const ch = s[i];
      if (ch === '.') continue;
      const d = parseInt(ch, 10);
      const frac = padLevelFrac[d];
      const x = tsx(i - 0.5 < 0 ? 0 : i - 0.5), x2 = tsx(Math.min(i + 0.5, tsN));
      mk('rect', {x: x, y: p.sy(paTop), width: x2 - x + 0.4, height: p.sy(paTop - bin) - p.sy(paTop) + 0.4, fill: jet(frac)}, p.g, 'pad-cell', false);
    }
  });
  tsFinish(p, n, padTicks, t => t, 'pitch angle (deg)', 60);
  const cb = mk('g', {}, p.g, 'pad-colorbar', false);
  mk('rect', {x: 1691, y: p.y0, width: 9, height: tsH, fill: 'url(#jetgrad)', stroke: '#000', 'stroke-width': 1.5}, cb, 'colorbar-gradient', false);
  cbLabels.forEach((lab, i) => {
    const y = p.y0 + tsH - i * tsH / 5;
    mk('line', {x1: 1697, y1: y, x2: 1700, y2: y, stroke: '#000'}, cb, 'colorbar-tick', false);
    const t = txt('', 1704, y + 7, 17, 'start', cb, 'colorbar-tick-label');
    t.innerHTML = '10<tspan font-size="11" dy="-9">' + minus(lab) + '</tspan>';
  });
})();
(function () {
  const n = 'solar-wind-velocity';
  const p = tsPanel(3, n, 'Solar Wind Velocity (GSE Frame)', [-500, 100]);
  polyline(p.g, tsIdx, swVx, tsx, p.sy, '#ff0000', 2.2, n + '-vx-line', 'clip-' + n);
  polyline(p.g, tsIdx, swVy, tsx, p.sy, '#008000', 2.2, n + '-vy-line', 'clip-' + n);
  polyline(p.g, tsIdx, swVz, tsx, p.sy, '#0000ff', 2.2, n + '-vz-line', 'clip-' + n);
  tsFinish(p, n, [-500,-400,-300,-200,-100,0,100], t => minus(t), 'Vsw(km/s)', 50);
  tsLegend(p, n, 1605, 2173, 71, [['Vx', '#ff0000'], ['Vy', '#008000'], ['Vz', '#0000ff']]);
})();
(function () {
  const n = 'plasma-beta';
  const p = tsPanel(4, n, 'Plasma Beta', [0, 5]);
  polyline(p.g, tsIdx, betaP, tsx, p.sy, '#0000ff', 2.2, n + '-line', 'clip-' + n);
  tsFinish(p, n, [0,1,2,3,4,5], t => t, '<tspan font-style="italic" font-family="Liberation Serif">\u03b2<tspan font-size="11" dy="3">p</tspan></tspan><tspan dy="-3"> and </tspan><tspan font-style="italic" font-family="Liberation Serif">\u03b2</tspan>', 68);
  tsLegend(p, n, 1607, 2446, 69, [['<tspan font-style="italic" font-family="Liberation Serif">\u03b2<tspan font-size="10" dy="3">p</tspan></tspan>', '#0000ff']]);
})();
(function () {
  const n = 'proton-density';
  const p = tsPanel(5, n, 'Proton Number Density', [0, 30]);
  polyline(p.g, tsIdx, densNp, tsx, p.sy, '#0000ff', 2.2, n + '-line', 'clip-' + n);
  tsFinish(p, n, [0,5,10,15,20,25,30], t => t, 'Np(#/cc)', 68);
})();
(function () {
  const n = 'proton-temperature';
  const p = tsPanel(6, n, 'Proton Temperature and <tspan font-style="italic" font-family="Liberation Serif">T<tspan font-size="14" dy="5">e</tspan><tspan dy="-5">/T</tspan><tspan font-size="14" dy="5">p</tspan></tspan>', [0, 0.5]);
  polyline(p.g, tsIdx, tempTp, tsx, p.sy, '#0000ff', 2.2, n + '-line', 'clip-' + n);
  tsFinish(p, n, [0,0.1,0.2,0.3,0.4,0.5], t => t.toFixed(1), 'Tp(10<tspan font-size="11" dy="-6">6</tspan><tspan dy="6">K)</tspan>', 60);
  tsLegend(p, n, 123, 3013, 72, [['Tp', '#0000ff']]);
})();
</script>
</body></html>
